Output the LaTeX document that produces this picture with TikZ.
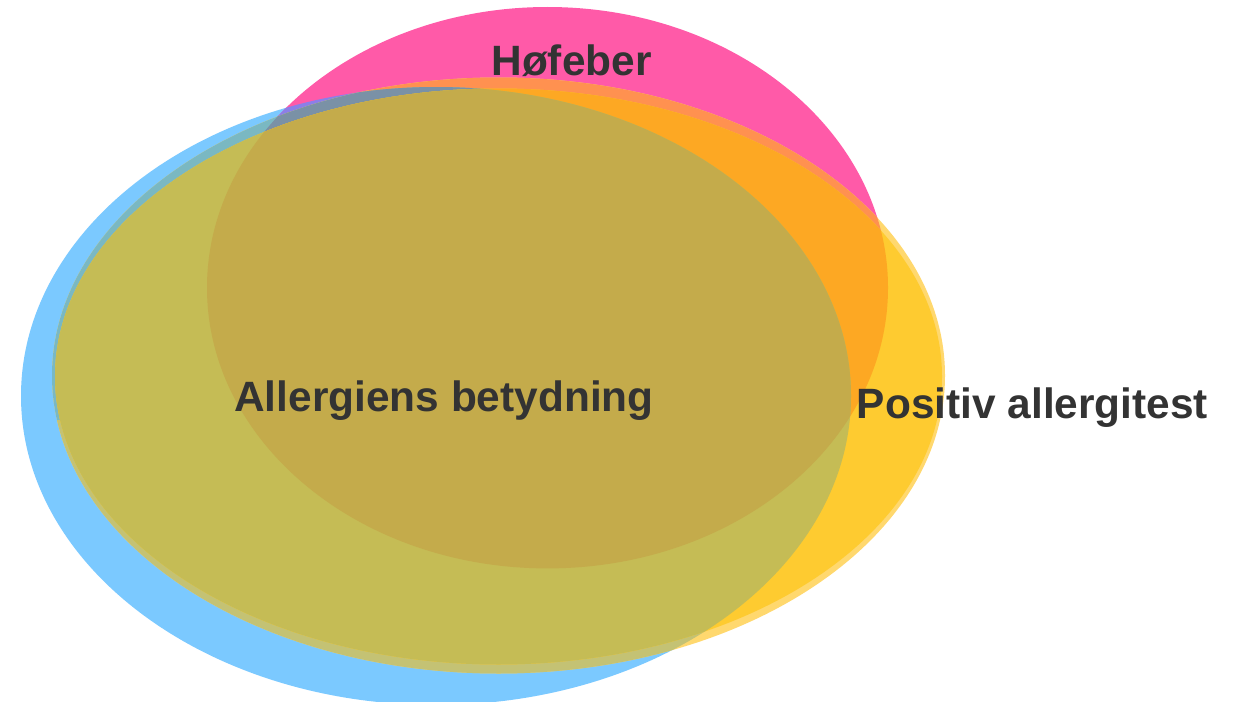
\documentclass[tikz,border=0pt]{standalone}
\usepackage{fontspec}
\setmainfont{Liberation Sans}

\definecolor{bluefill}{HTML}{7BC9FF}
\definecolor{pinkfill}{HTML}{FF5AA8}
\definecolor{purplefill}{HTML}{8B7FE8}
\definecolor{rimfill}{HTML}{FFD86E}
\definecolor{rimpink}{HTML}{FF9150}
\definecolor{rimblue}{HTML}{7AB8C2}
\definecolor{rimgray}{HTML}{7A91A6}
\definecolor{rimolive}{HTML}{C4C274}
\definecolor{yellowfill}{HTML}{FECB30}
\definecolor{orangefill}{HTML}{FDA823}
\definecolor{olivefill}{HTML}{C5BC55}
\definecolor{triplefill}{HTML}{C4AB4B}
\definecolor{labelgray}{HTML}{333333}

\newcommand{\blueset}{(436,396) ellipse [x radius=415pt, y radius=309pt]}
\newcommand{\pinkset}{(547.5,287.7) ellipse [x radius=340.5pt, y radius=280.7pt]}
\newcommand{\rimset}{(498.5,375.5) ellipse [x radius=446.5pt, y radius=298pt]}
\newcommand{\yellowset}{(498.5,376.5) ellipse [x radius=443.5pt, y radius=288pt]}

\tikzset{vennlabel/.style={text=labelgray, font=\fontsize{42.4}{50}\selectfont\bfseries, inner sep=0pt, anchor=base}}

\begin{document}
\begin{tikzpicture}[x=1pt,y=-1pt]
      \useasboundingbox (0,0) rectangle (1236,701);
      \fill[white] (0,0) rectangle (1236,701);
      % blue and pink
      \fill[bluefill] \blueset;
      \fill[pinkfill] \pinkset;
      \begin{scope}
        \clip \blueset;
        \fill[purplefill] \pinkset;
      \end{scope}
      % yellow rim
      \fill[rimfill] \rimset;
      \begin{scope}
        \clip \rimset;
        \fill[rimpink] \pinkset;
        \clip \blueset;
        \fill[rimblue] (0,0) rectangle (1236,420);
        \fill[rimolive] (0,420) rectangle (1236,710);
        \clip \pinkset;
        \fill[rimgray] (0,0) rectangle (1236,710);
      \end{scope}
      % yellow
      \fill[yellowfill] \yellowset;
      \begin{scope}
        \clip \yellowset;
        \fill[orangefill] \pinkset;
        \fill[olivefill] \blueset;
        \clip \blueset;
        \fill[triplefill] \pinkset;
      \end{scope}
      % labels
      \node[vennlabel] (hofeber) at (571.5,75) {Høfeber};
      \node[vennlabel] (betydning) at (444,411.7) {Allergiens betydning};
      \node[vennlabel] (allergitest) at (1032.5,418.3) {Positiv allergitest};
\end{tikzpicture}
\end{document}
